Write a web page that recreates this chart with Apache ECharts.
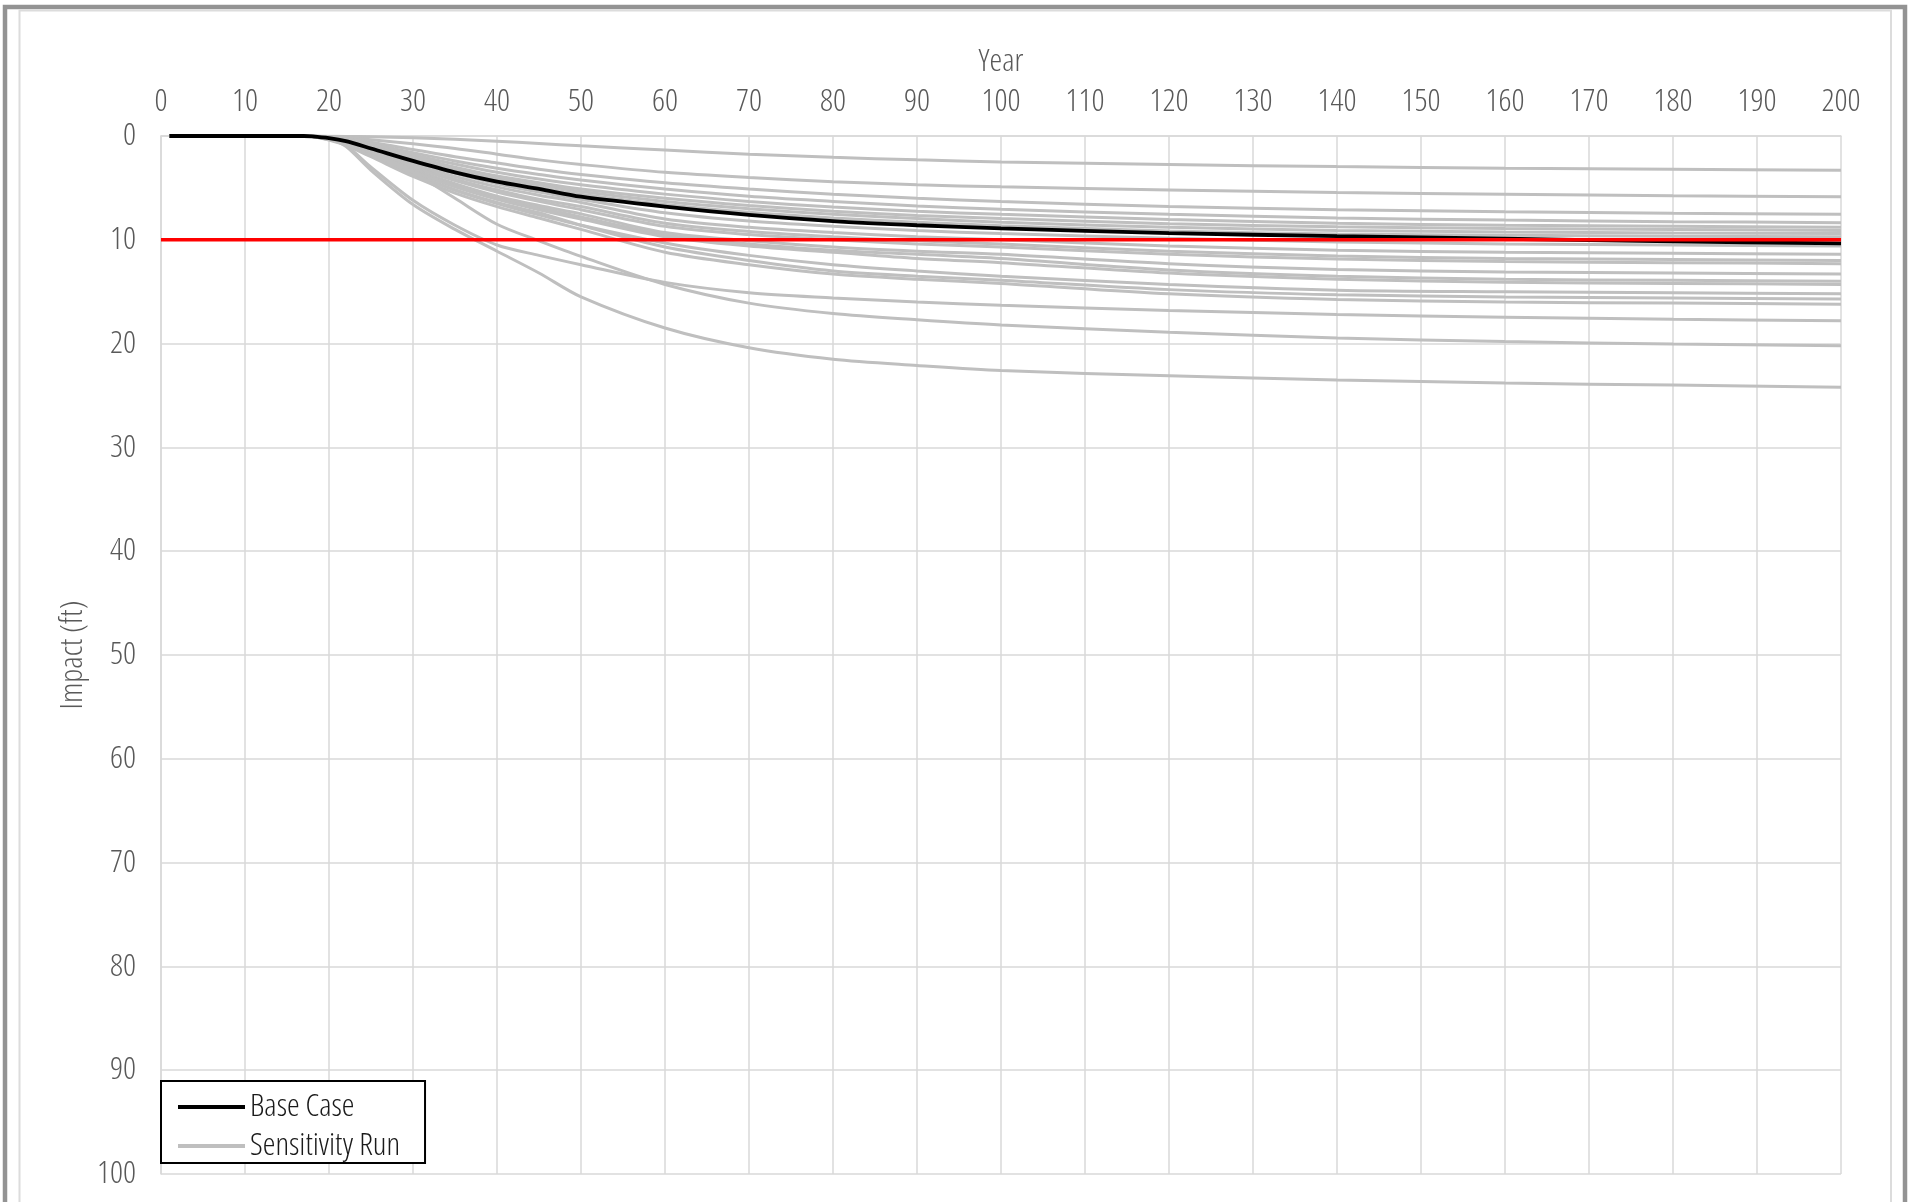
<!DOCTYPE html>
<html>
<head>
<meta charset="utf-8">
<script src="https://cdn.jsdelivr.net/npm/echarts@6/dist/echarts.min.js"></script>
<style>
html, body { margin: 0; padding: 0; background: #ffffff; }
#chart { width: 1908px; height: 1202px; }
</style>
</head>
<body>
<div id="chart"></div>
<script>
// ---- Data (years on x axis, impact in ft on y axis) ----
const years = [1, 10, 17, 18, 20, 22, 25, 30, 35, 40, 45, 50, 60, 70, 80, 90, 100, 120, 140, 160, 180, 200];

const baseCase = [0, 0, 0, 0.03, 0.2, 0.5, 1.2, 2.4, 3.5, 4.4, 5.1, 5.85, 6.8, 7.6, 8.2, 8.6, 8.9, 9.35, 9.65, 9.9, 10.15, 10.35];

const run01 = [0, 0, 0, 0, 0.02, 0.04, 0.08, 0.18, 0.32, 0.5, 0.72, 0.95, 1.35, 1.75, 2.05, 2.3, 2.5, 2.75, 2.95, 3.1, 3.2, 3.3];
const run02 = [0, 0, 0, 0, 0.05, 0.15, 0.35, 0.75, 1.2, 1.75, 2.3, 2.75, 3.5, 4.0, 4.4, 4.7, 4.9, 5.2, 5.45, 5.6, 5.75, 5.85];
const run03 = [0, 0, 0, 0, 0.1, 0.25, 0.6, 1.3, 2.0, 2.6, 3.2, 3.7, 4.5, 5.1, 5.6, 6.0, 6.3, 6.8, 7.1, 7.3, 7.45, 7.55];
const run04 = [0, 0, 0, 0.01, 0.12, 0.3, 0.75, 1.6, 2.4, 3.1, 3.7, 4.25, 5.1, 5.8, 6.3, 6.75, 7.05, 7.55, 7.9, 8.1, 8.25, 8.35];
const run05 = [0, 0, 0, 0.01, 0.15, 0.35, 0.85, 1.8, 2.7, 3.5, 4.15, 4.7, 5.6, 6.3, 6.85, 7.25, 7.55, 8.05, 8.4, 8.6, 8.7, 8.8];
const run06 = [0, 0, 0, 0.01, 0.15, 0.4, 0.95, 2.0, 3.0, 3.85, 4.5, 5.1, 6.0, 6.7, 7.25, 7.65, 7.95, 8.45, 8.75, 8.9, 9.0, 9.1];
const run07 = [0, 0, 0, 0.02, 0.18, 0.42, 1.0, 2.1, 3.15, 4.0, 4.7, 5.35, 6.3, 7.0, 7.55, 7.95, 8.3, 8.8, 9.1, 9.25, 9.35, 9.4];
const run08 = [0, 0, 0, 0.02, 0.2, 0.45, 1.1, 2.3, 3.3, 4.2, 4.95, 5.6, 6.6, 7.35, 7.9, 8.3, 8.65, 9.15, 9.45, 9.55, 9.65, 9.7];
const run09 = [0, 0, 0, 0.02, 0.2, 0.5, 1.2, 2.5, 3.6, 4.6, 5.4, 6.1, 7.4, 8.2, 8.7, 9.1, 9.4, 9.85, 10.2, 10.4, 10.5, 10.6];
const run10 = [0, 0, 0, 0.02, 0.25, 0.55, 1.3, 2.7, 3.9, 4.9, 5.7, 6.4, 8.0, 8.8, 9.3, 9.7, 10.0, 10.6, 11.0, 11.2, 11.3, 11.4];
const run11 = [0, 0, 0, 0.03, 0.25, 0.6, 1.4, 2.9, 4.15, 5.2, 6.1, 6.8, 8.4, 9.2, 9.7, 10.1, 10.4, 11.1, 11.55, 11.8, 11.9, 12.0];
const run12 = [0, 0, 0, 0.03, 0.28, 0.65, 1.5, 3.0, 4.3, 5.4, 6.3, 7.1, 8.7, 9.5, 10.0, 10.4, 10.7, 11.4, 11.85, 12.1, 12.2, 12.3];
const run13 = [0, 0, 0, 0.03, 0.3, 0.7, 1.6, 3.2, 4.6, 5.8, 6.7, 7.5, 9.3, 10.1, 10.7, 11.1, 11.4, 12.3, 12.85, 13.1, 13.2, 13.3];
const run14 = [0, 0, 0, 0.03, 0.3, 0.7, 1.65, 3.3, 4.8, 6.0, 6.9, 7.8, 9.5, 10.4, 11.0, 11.4, 11.8, 12.9, 13.5, 13.8, 13.9, 14.0];
const run15 = [0, 0, 0, 0.03, 0.3, 0.75, 1.7, 3.4, 4.9, 6.1, 7.1, 8.0, 9.7, 10.6, 11.2, 11.8, 12.2, 13.2, 13.8, 14.1, 14.2, 14.3];
const run16 = [0, 0, 0, 0.04, 0.35, 0.8, 1.8, 3.6, 5.2, 6.5, 7.6, 8.6, 10.3, 11.5, 12.4, 13.0, 13.5, 14.3, 14.85, 15.0, 15.1, 15.2];
const run17 = [0, 0, 0, 0.04, 0.35, 0.85, 1.9, 3.7, 5.2, 6.4, 7.4, 8.6, 10.7, 12.0, 13.0, 13.5, 13.9, 14.8, 15.3, 15.5, 15.6, 15.7];
const run18 = [0, 0, 0, 0.05, 0.4, 0.9, 2.0, 3.9, 5.5, 6.8, 7.9, 9.0, 11.2, 12.4, 13.3, 13.8, 14.2, 15.2, 15.75, 16.0, 16.1, 16.2];
const run19 = [0, 0, 0, 0.04, 0.25, 0.9, 3.0, 6.2, 8.6, 10.5, 11.5, 12.4, 14.1, 15.1, 15.6, 16.0, 16.3, 16.8, 17.2, 17.45, 17.65, 17.8];
const run20 = [0, 0, 0, 0.03, 0.2, 0.55, 1.5, 3.5, 6.0, 8.5, 10.1, 11.6, 14.3, 16.1, 17.1, 17.7, 18.2, 18.9, 19.45, 19.8, 20.05, 20.2];
const run21 = [0, 0, 0, 0.04, 0.25, 1.0, 3.3, 6.6, 9.0, 11.1, 13.2, 15.5, 18.5, 20.4, 21.5, 22.1, 22.6, 23.1, 23.5, 23.8, 24.0, 24.2];

const sensitivityRuns = [run01, run02, run03, run04, run05, run06, run07, run08, run09, run10,
  run11, run12, run13, run14, run15, run16, run17, run18, run19, run20, run21];

const thresholdYears = [0, 200];
const thresholdValues = [10, 10];

const legendNames = ['Base Case', 'Sensitivity Run'];
const xAxisName = 'Year';
const yAxisName = 'Impact (ft)';
const xMin = 0, xMax = 200, xStep = 10;
const yMin = 0, yMax = 100, yStep = 10;

// ---- Chart ----
const FONT = '"Open Sans", "Roboto", sans-serif';
const FONT_STRETCH = 'condensed';
const TEXT_GRAY = '#595959';
const GRID_GRAY = '#d9d9d9';

const chart = echarts.init(document.getElementById('chart'), null, { renderer: 'canvas' });

function pairs(xs, ys) { return xs.map((x, i) => [x, ys[i]]); }

const series = sensitivityRuns.map(run => ({
  name: legendNames[1],
  type: 'line',
  data: pairs(years, run),
  symbol: 'none',
  showSymbol: false,
  smooth: 0.3,
  lineStyle: { color: '#bfbfbf', width: 3 },
  itemStyle: { color: '#bfbfbf' },
  silent: true,
  z: 2
}));

series.push({
  name: legendNames[0],
  type: 'line',
  data: pairs(years, baseCase),
  symbol: 'none',
  showSymbol: false,
  smooth: 0.3,
  lineStyle: { color: '#000000', width: 3.8 },
  itemStyle: { color: '#000000' },
  silent: true,
  z: 3
});

series.push({
  name: 'Threshold',
  type: 'line',
  data: pairs(thresholdYears, thresholdValues),
  symbol: 'none',
  showSymbol: false,
  lineStyle: { color: '#ff0000', width: 3.6 },
  itemStyle: { color: '#ff0000' },
  silent: true,
  z: 4
});

const labelText = { fontFamily: FONT, fontStyle: FONT_STRETCH, fontWeight: 300, fontSize: 32, color: TEXT_GRAY };

const option = {
  animation: false,
  backgroundColor: '#ffffff',
  graphic: [
    { type: 'rect', silent: true, z: 0, shape: { x: 5, y: 7, width: 1900, height: 1300 },
      style: { fill: 'transparent', stroke: '#939393', lineWidth: 4.5 } },
    { type: 'rect', silent: true, z: 0, shape: { x: 19.5, y: 10.5, width: 1871.5, height: 1300 },
      style: { fill: 'transparent', stroke: '#dcdcdc', lineWidth: 2 } }
  ],
  grid: { left: 161, top: 136, width: 1680, height: 1038, containLabel: false },
  xAxis: {
    type: 'value', position: 'top', min: xMin, max: xMax, interval: xStep,
    name: xAxisName, nameLocation: 'middle', nameGap: 58, nameMoveOverlap: false,
    nameTextStyle: labelText,
    axisLine: { show: true, lineStyle: { color: GRID_GRAY, width: 1.5 } },
    axisTick: { show: false },
    axisLabel: Object.assign({ margin: 18 }, labelText),
    splitLine: { show: true, lineStyle: { color: GRID_GRAY, width: 1.5 } }
  },
  yAxis: {
    type: 'value', inverse: true, min: yMin, max: yMax, interval: yStep,
    name: yAxisName, nameLocation: 'middle', nameRotate: 90, nameGap: 72, nameMoveOverlap: false,
    nameTextStyle: labelText,
    axisLine: { show: true, lineStyle: { color: GRID_GRAY, width: 1.5 } },
    axisTick: { show: false },
    axisLabel: Object.assign({ margin: 25 }, labelText),
    splitLine: { show: true, lineStyle: { color: GRID_GRAY, width: 1.5 } }
  },
  legend: {
    data: [
      { name: legendNames[0], icon: 'rect', itemStyle: { color: '#000000' } },
      { name: legendNames[1], icon: 'rect', itemStyle: { color: '#bfbfbf' } }
    ],
    orient: 'vertical',
    left: 161, top: 1081,
    padding: [10, 25, 1, 17],
    itemGap: 7, itemWidth: 67, itemHeight: 4,
    borderColor: '#000000', borderWidth: 2, backgroundColor: '#ffffff',
    selectedMode: false,
    textStyle: { fontFamily: FONT, fontStyle: FONT_STRETCH, fontWeight: 300, fontSize: 32, color: '#1a1a1a', lineHeight: 32 }
  },
  series: series
};

chart.setOption(option);
</script>
</body>
</html>
